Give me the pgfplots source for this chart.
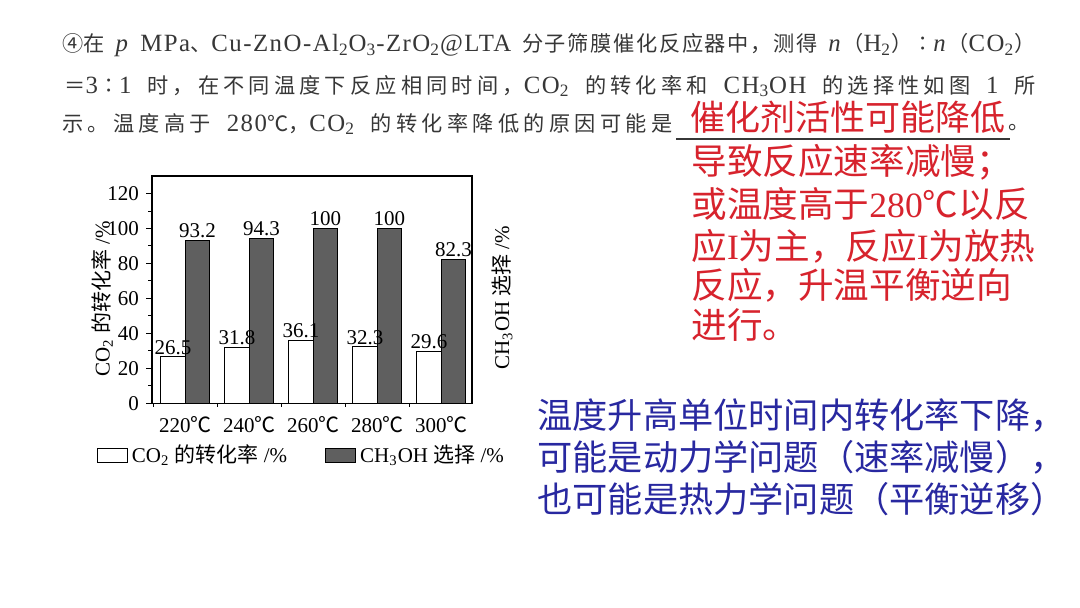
\documentclass[border=0pt]{standalone}
\usepackage{pgfplots}
\pgfplotsset{compat=1.18}
\usepackage{fontspec}
\setmainfont{Liberation Serif}
\newfontfamily\cjk{Noto Sans CJK SC}
\newfontfamily\qlat[LetterSpace=6]{Liberation Serif}
\newcommand\zh[1]{{\cjk #1}}
\newcommand\zq[1]{{\cjk\fontsize{10.6}{12}\selectfont #1}}
\makeatletter
\count@="3000 \loop \XeTeXcharclass\count@=7 \ifnum\count@<"303F \advance\count@ 1 \repeat
\count@="4E00 \loop \XeTeXcharclass\count@=7 \ifnum\count@<"9FFF \advance\count@ 1 \repeat
\count@="FF00 \loop \XeTeXcharclass\count@=7 \ifnum\count@<"FF60 \advance\count@ 1 \repeat
\makeatother
\XeTeXinterchartoks 7 7 = {\hskip0pt plus 1pt\relax}
\XeTeXinterchartokenstate=1
\definecolor{txtgray}{RGB}{55,55,55}
\definecolor{ansred}{RGB}{215,35,45}
\definecolor{ansblue}{RGB}{40,40,160}
\definecolor{bardark}{RGB}{95,95,95}
\begin{document}
\begin{tikzpicture}[x=0.5pt,y=0.5pt]
\path[use as bounding box,fill=white] (0,0) rectangle (1080,608);
% question text
\begin{scope}[every node/.style={anchor=west,inner sep=0pt,text=txtgray,font=\qlat\fontsize{12.4}{14}\selectfont}]
\node at (62,{608-45}) {\makebox[486.5pt][s]{\zq{④在} \textit{p} MPa\zq{、}Cu-ZnO-Al\textsubscript{2}O\textsubscript{3}-ZrO\textsubscript{2}@LTA \zq{分子筛膜催化反应器中，测得} \textit{n}\zq{（}H\textsubscript{2}\zq{）∶}\textit{n}\zq{（}CO\textsubscript{2}\zq{）}}};
\node at (64,{608-86}) {\makebox[485.5pt][s]{\zq{＝}3\zq{∶}1 \zq{时，在不同温度下反应相同时间，}CO\textsubscript{2} \zq{的转化率和} CH\textsubscript{3}OH \zq{的选择性如图} 1 \zq{所}}};
\node at (62,{608-124}) {\makebox[305pt][s]{\zq{示。温度高于} 280\zq{℃，}CO\textsubscript{2} \zq{的转化率降低的原因可能是}}};
\node at (1008,{608-128}) {\zq{。}};
\end{scope}
\draw[txtgray,line width=0.6pt] (676,{608-139}) -- (1010,{608-139});
\begin{scope}[every node/.style={anchor=west,inner sep=0pt,text=ansred,font=\fontsize{17.5}{20}\selectfont}]
\node at (690,{608-117}) {\zh{催化剂活性可能降低}};
\end{scope}
\begin{scope}[every node/.style={anchor=west,inner sep=0pt,text=ansred,font=\fontsize{17.8}{20}\selectfont}]
\node at (691,{608-162}) {\zh{导致反应速率减慢；}};
\node at (691,{608-204}) {\zh{或温度高于}280\zh{℃以反}};
\node at (691,{608-246}) {\zh{应}I\zh{为主，反应}I\zh{为放热}};
\node at (691,{608-285}) {\zh{反应，升温平衡逆向}};
\node at (691,{608-325}) {\zh{进行。}};
\end{scope}
\begin{scope}[every node/.style={anchor=west,inner sep=0pt,text=ansblue,font=\fontsize{17.6}{20}\selectfont}]
\node at (537,{608-415}) {\zh{温度升高单位时间内转化率下降，}};
\node at (537,{608-457}) {\zh{可能是动力学问题（速率减慢），}};
\node at (537,{608-499}) {\zh{也可能是热力学问题（平衡逆移）}};
\end{scope}
% chart
\begin{axis}[
  at={(76pt,102.35pt)}, anchor=south west,
  scale only axis, width=160pt, height=113.6pt,
  clip=false,
  ybar=0pt, bar width=12.2pt,
  xmin=-0.52, xmax=4.48, ymin=0, ymax=130,
  axis line style={black,line width=0.6pt},
  xtick={0,1,2,3,4},
  xticklabels={220\zh{℃},240\zh{℃},260\zh{℃},280\zh{℃},300\zh{℃}},
  major x tick style={draw=none},
  minor xtick={-0.5,0.5,1.5,2.5,3.5,4.5},
  ytick={0,20,...,120}, minor ytick={10,30,...,110},
  tick align=outside, ytick pos=left, xtick pos=bottom,
  major tick length=3pt, minor tick length=1.8pt,
  tick style={black,line width=0.5pt},
  /pgf/number format/assume math mode=true,
  tick label style={font=\fontsize{10.5}{12}\selectfont},
  ylabel={CO\textsubscript{2} \zh{的转化率} /\%},
  ylabel style={at={(axis description cs:-0.155,0.46)},anchor=center,font=\fontsize{10.5}{12}\selectfont},
  nodes near coords,
  point meta=explicit symbolic,
  every node near coord/.append style={font=\fontsize{10.5}{12}\selectfont,inner sep=1pt,black},
  legend columns=2,
  legend style={draw=none,fill=none,at={(axis description cs:0.47,-0.228)},anchor=center,
    font=\fontsize{10.5}{12}\selectfont,inner sep=0pt,
    /tikz/every even column/.append style={column sep=17pt}},
  legend image code/.code={\draw[#1,line width=0.5pt] (0pt,-3.5pt) rectangle (15pt,3.5pt);},
]
\addplot[draw=black,fill=white,line width=0.5pt] coordinates {(0,26.5)[26.5] (1,31.8)[31.8] (2,36.1)[36.1] (3,32.3)[32.3] (4,29.6)[29.6]};
\addlegendentry{CO\textsubscript{2} \zh{的转化率} /\%}
\addplot[draw=black,fill=bardark,line width=0.5pt] coordinates {(0,93.2)[93.2] (1,94.3)[94.3] (2,100)[100] (3,100)[100] (4,82.3)[82.3]};
\addlegendentry{CH\textsubscript{3}OH \zh{选择} /\%}
\node[rotate=90,anchor=center,font=\fontsize{10.5}{12}\selectfont] at (axis description cs:1.094,0.465) {CH\textsubscript{3}OH \zh{选择} /\%};
\end{axis}
\end{tikzpicture}
\end{document}
